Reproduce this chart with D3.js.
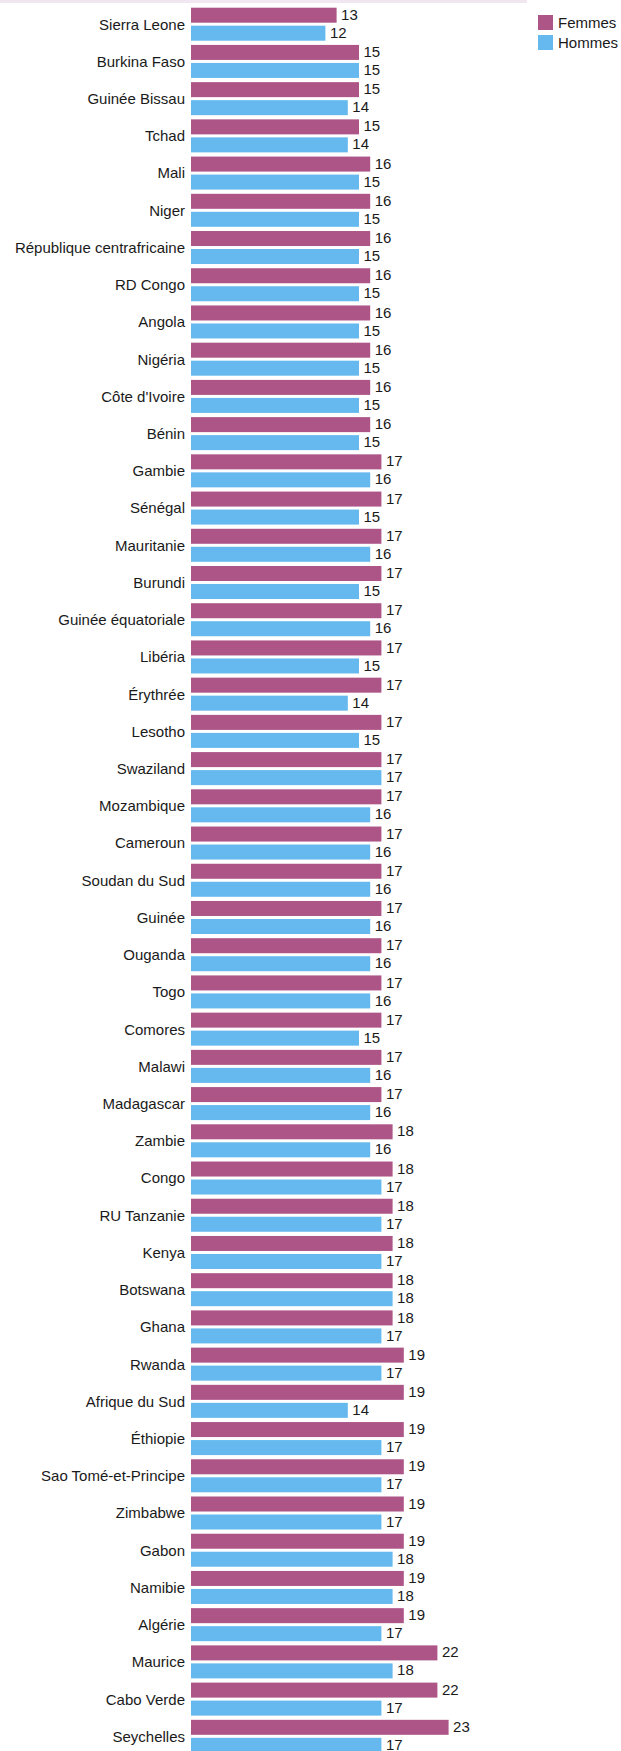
<!DOCTYPE html>
<html>
<head>
<meta charset="utf-8">
<script src="https://cdn.jsdelivr.net/npm/d3@7"></script>
<style>
  html, body { margin: 0; padding: 0; background: #ffffff; }
  svg { display: block; }
  text { font-family: "Liberation Sans", Arial, sans-serif; fill: #1a1a1a; }
</style>
</head>
<body>
<svg id="chart" width="621" height="1751"></svg>
<script>
const countries = ["Sierra Leone","Burkina Faso","Guinée Bissau","Tchad","Mali","Niger","République centrafricaine","RD Congo","Angola","Nigéria","Côte d'Ivoire","Bénin","Gambie","Sénégal","Mauritanie","Burundi","Guinée équatoriale","Libéria","Érythrée","Lesotho","Swaziland","Mozambique","Cameroun","Soudan du Sud","Guinée","Ouganda","Togo","Comores","Malawi","Madagascar","Zambie","Congo","RU Tanzanie","Kenya","Botswana","Ghana","Rwanda","Afrique du Sud","Éthiopie","Sao Tomé-et-Principe","Zimbabwe","Gabon","Namibie","Algérie","Maurice","Cabo Verde","Seychelles"];
const femmes = [13,15,15,15,16,16,16,16,16,16,16,16,17,17,17,17,17,17,17,17,17,17,17,17,17,17,17,17,17,17,18,18,18,18,18,18,19,19,19,19,19,19,19,19,22,22,23];
const hommes = [12,15,14,14,15,15,15,15,15,15,15,15,16,15,16,15,16,15,14,15,17,16,16,16,16,16,16,15,16,16,16,17,17,17,18,17,17,14,17,17,17,18,18,17,18,17,17];
const seriesNames = ["Femmes","Hommes"];
const seriesColors = ["#ad5587","#65b9ee"];

const svg = d3.select("#chart");

// top strip (remnant of the cropped title band)
svg.append("rect").attr("x", 0).attr("y", 0).attr("width", 527).attr("height", 3).attr("fill", "#f1e7f1");

const x = d3.scaleLinear().domain([0, 23]).range([191, 191 + 23 * 11.2]);
const step = 37.22;
const y0 = d3.scaleBand().domain(countries)
  .range([7.7 - step * 0.0565, 7.7 - step * 0.0565 + step * countries.length])
  .paddingInner(0.113).paddingOuter(0.0565);
const y1 = d3.scaleBand().domain(seriesNames).range([0, y0.bandwidth()]).paddingInner(0.1667);
const color = d3.scaleOrdinal().domain(seriesNames).range(seriesColors);

const rows = countries.map((c, i) => ({ country: c, values: [
  { key: "Femmes", value: femmes[i] },
  { key: "Hommes", value: hommes[i] }
]}));

const g = svg.append("g");
const groups = g.selectAll("g.country").data(rows).join("g")
  .attr("class", "country")
  .attr("transform", d => `translate(0,${y0(d.country)})`);

groups.selectAll("rect").data(d => d.values).join("rect")
  .attr("x", x(0))
  .attr("y", d => y1(d.key))
  .attr("width", d => x(d.value) - x(0))
  .attr("height", y1.bandwidth())
  .attr("fill", d => color(d.key));

groups.selectAll("text.val").data(d => d.values).join("text")
  .attr("class", "val")
  .attr("x", d => x(d.value) + 4.5)
  .attr("y", d => y1(d.key) + y1.bandwidth() / 2 - 0.8)
  .attr("dy", "0.36em")
  .attr("font-size", 15)
  .text(d => d.value);

// category axis labels
const yAxis = d3.axisLeft(y0).tickSize(0).tickPadding(6);
const axisG = svg.append("g").attr("transform", `translate(${x(0)},0)`).call(yAxis);
axisG.select(".domain").remove();
axisG.selectAll("text")
  .attr("font-size", 15)
  .attr("font-family", "Liberation Sans, Arial, sans-serif")
  .attr("fill", "#1a1a1a")
  .attr("dy", "0.36em");

// legend
const legend = svg.append("g").attr("transform", "translate(538,15)");
const li = legend.selectAll("g").data(seriesNames).join("g")
  .attr("transform", (d, i) => `translate(0,${i * 20})`);
li.append("rect").attr("width", 15).attr("height", 15).attr("fill", d => color(d));
li.append("text").attr("x", 20).attr("y", 7.5).attr("dy", "0.36em").attr("font-size", 15).text(d => d);
</script>
</body>
</html>
